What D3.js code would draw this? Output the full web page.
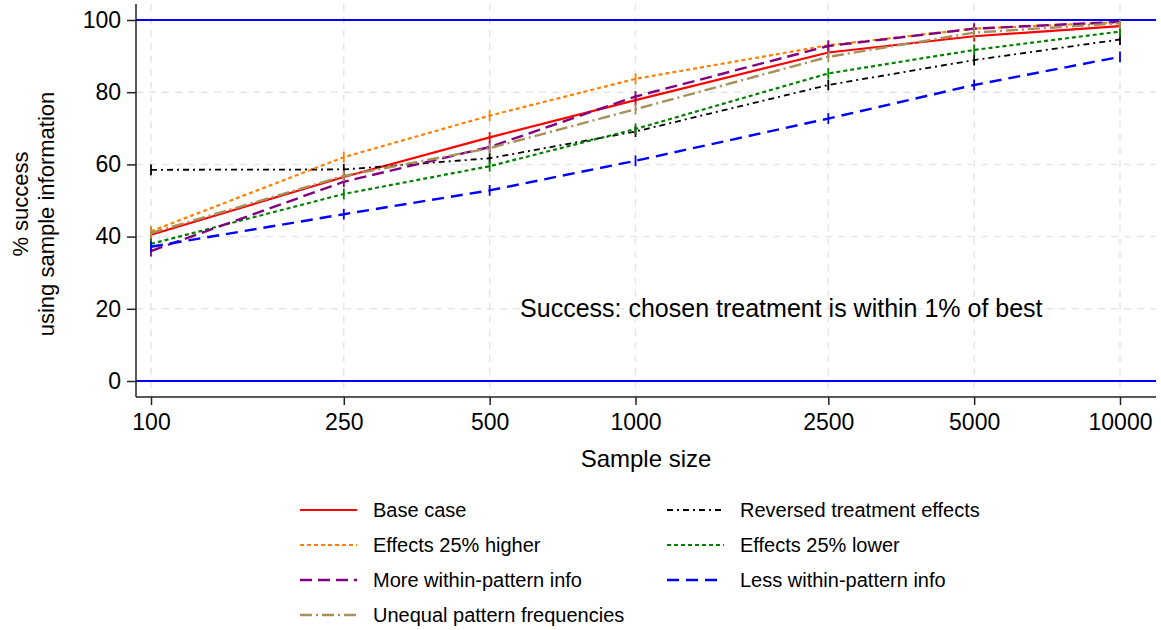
<!DOCTYPE html>
<html>
<head>
<meta charset="utf-8">
<script src="https://cdn.jsdelivr.net/npm/d3@7"></script>
<style>
  body { margin: 0; background: #fff; }
  svg { font-family: "Liberation Sans", Arial, sans-serif; }
</style>
</head>
<body>
<div id="chart"></div>
<script>
// data
const sampleSizes = [100, 250, 500, 1000, 2500, 5000, 10000];
const yTicks = [0, 20, 40, 60, 80, 100];

const baseCase  = [40.5, 56.5, 67.5, 77.8, 91.0, 95.5, 98.3];
const reversed  = [58.5, 58.6, 61.7, 69.1, 82.0, 88.9, 94.6];
const higher    = [41.5, 62.0, 73.5, 83.7, 93.0, 97.6, 99.4];
const lower     = [38.0, 51.8, 59.5, 69.8, 85.2, 91.7, 96.8];
const moreInfo  = [36.0, 55.2, 64.8, 78.8, 92.8, 97.6, 99.5];
const lessInfo  = [37.2, 46.2, 52.8, 61.0, 72.7, 82.0, 89.8];
const unequal   = [41.0, 56.8, 64.5, 75.3, 89.8, 96.5, 99.1];

const seriesNames = ['Base case', 'Reversed treatment effects', 'Effects 25% higher', 'Effects 25% lower',
  'More within-pattern info', 'Less within-pattern info', 'Unequal pattern frequencies'];
const seriesValues = [baseCase, reversed, higher, lower, moreInfo, lessInfo, unequal];

// styles
const colors = ['#ff0000', '#000000', '#ff8000', '#008000', '#800080', '#0000ff', '#a8905a'];
const dashes = [null, '6,4,2,4', '4,3', '4,3', '12,6', '12,7', '12,4,2,4'];
const widths = [2.2, 1.8, 2.2, 2.2, 2.4, 2.4, 2.4];
const errHalf = 1.5;

const W = 1161, H = 630;
const svg = d3.select('#chart').append('svg')
  .attr('width', W).attr('height', H);

const plotLeft = 136, plotRight = 1156, plotTop = 4, plotBottom = 397;

const x = d3.scaleLog().domain([100, 10000]).range([151, 1120]);
const y = d3.scaleLinear().domain([0, 100]).range([381, 20]);

// grid
const grid = svg.append('g').attr('stroke', '#e6e6e6').attr('stroke-width', 1.5)
  .attr('stroke-dasharray', '7,6');
grid.selectAll('.vg').data(sampleSizes).enter().append('line')
  .attr('x1', d => x(d)).attr('x2', d => x(d))
  .attr('y1', plotTop).attr('y2', plotBottom);
grid.selectAll('.hg').data(yTicks.filter(d => d > 0 && d < 100)).enter().append('line')
  .attr('x1', plotLeft).attr('x2', plotRight)
  .attr('y1', d => y(d)).attr('y2', d => y(d));

// blue reference lines
svg.selectAll('.ref').data([0, 100]).enter().append('line')
  .attr('x1', plotLeft).attr('x2', plotRight)
  .attr('y1', d => y(d)).attr('y2', d => y(d))
  .attr('stroke', '#0000ff').attr('stroke-width', 2);

// axes
const yAxis = svg.append('g').attr('transform', `translate(${plotLeft},0)`)
  .call(d3.axisLeft(y).tickValues(yTicks).tickSize(9).tickPadding(6));
yAxis.select('.domain').attr('d', `M0,${plotTop}V${plotBottom}`).attr('stroke', '#222').attr('stroke-width', 1.5);
yAxis.selectAll('.tick line').attr('stroke', '#222').attr('stroke-width', 1.5);
yAxis.selectAll('text').attr('font-size', 23).attr('fill', '#000')
  .attr('font-family', '"Liberation Sans", Arial, sans-serif');

const xAxis = svg.append('g').attr('transform', `translate(0,${plotBottom})`)
  .call(d3.axisBottom(x).tickValues(sampleSizes).tickFormat(d3.format('d')).tickSize(8).tickPadding(9));
xAxis.select('.domain').attr('d', `M${plotLeft},0H${plotRight}`).attr('stroke', '#222').attr('stroke-width', 1.5);
xAxis.selectAll('.tick line').attr('stroke', '#222').attr('stroke-width', 1.5);
xAxis.selectAll('text').attr('font-size', 23).attr('fill', '#000')
  .attr('font-family', '"Liberation Sans", Arial, sans-serif');

// axis titles
svg.append('text').attr('x', 646).attr('y', 467)
  .attr('text-anchor', 'middle').attr('font-size', 24).text('Sample size');
svg.append('text').attr('transform', 'translate(28,204) rotate(-90)')
  .attr('text-anchor', 'middle').attr('font-size', 22).text('% success');
svg.append('text').attr('transform', 'translate(54,214) rotate(-90)')
  .attr('text-anchor', 'middle').attr('font-size', 22).text('using sample information');

// series
const line = d3.line().x((d, i) => x(sampleSizes[i])).y(d => y(d));
seriesValues.forEach(function(vals, s){
  const g = svg.append('g').attr('class', 'series');
  g.append('path').datum(vals)
    .attr('d', line)
    .attr('fill', 'none')
    .attr('stroke', colors[s])
    .attr('stroke-width', widths[s])
    .attr('stroke-dasharray', dashes[s]);
  g.selectAll('line').data(vals).enter().append('line')
    .attr('x1', (d, i) => x(sampleSizes[i])).attr('x2', (d, i) => x(sampleSizes[i]))
    .attr('y1', d => y(Math.min(d + errHalf, 100))).attr('y2', d => y(d - errHalf))
    .attr('stroke', colors[s]).attr('stroke-width', 1.8);
});

// note
svg.append('text').attr('x', x(2000)).attr('y', y(20) + 8)
  .attr('text-anchor', 'middle').attr('font-size', 25)
  .text('Success: chosen treatment is within 1% of best');

// legend
const legend = svg.append('g');
const legItems = legend.selectAll('g').data(seriesNames).enter().append('g')
  .attr('transform', (d, i) => `translate(${i % 2 === 0 ? 300 : 667},${510 + Math.floor(i / 2) * 35})`);
legItems.append('line')
  .attr('x1', 0).attr('x2', 57).attr('y1', 0).attr('y2', 0)
  .attr('stroke', (d, i) => colors[i])
  .attr('stroke-width', (d, i) => widths[i])
  .attr('stroke-dasharray', (d, i) => dashes[i]);
legItems.append('text').attr('x', 73).attr('y', 7)
  .attr('font-size', 20).text(d => d);
</script>
</body>
</html>
